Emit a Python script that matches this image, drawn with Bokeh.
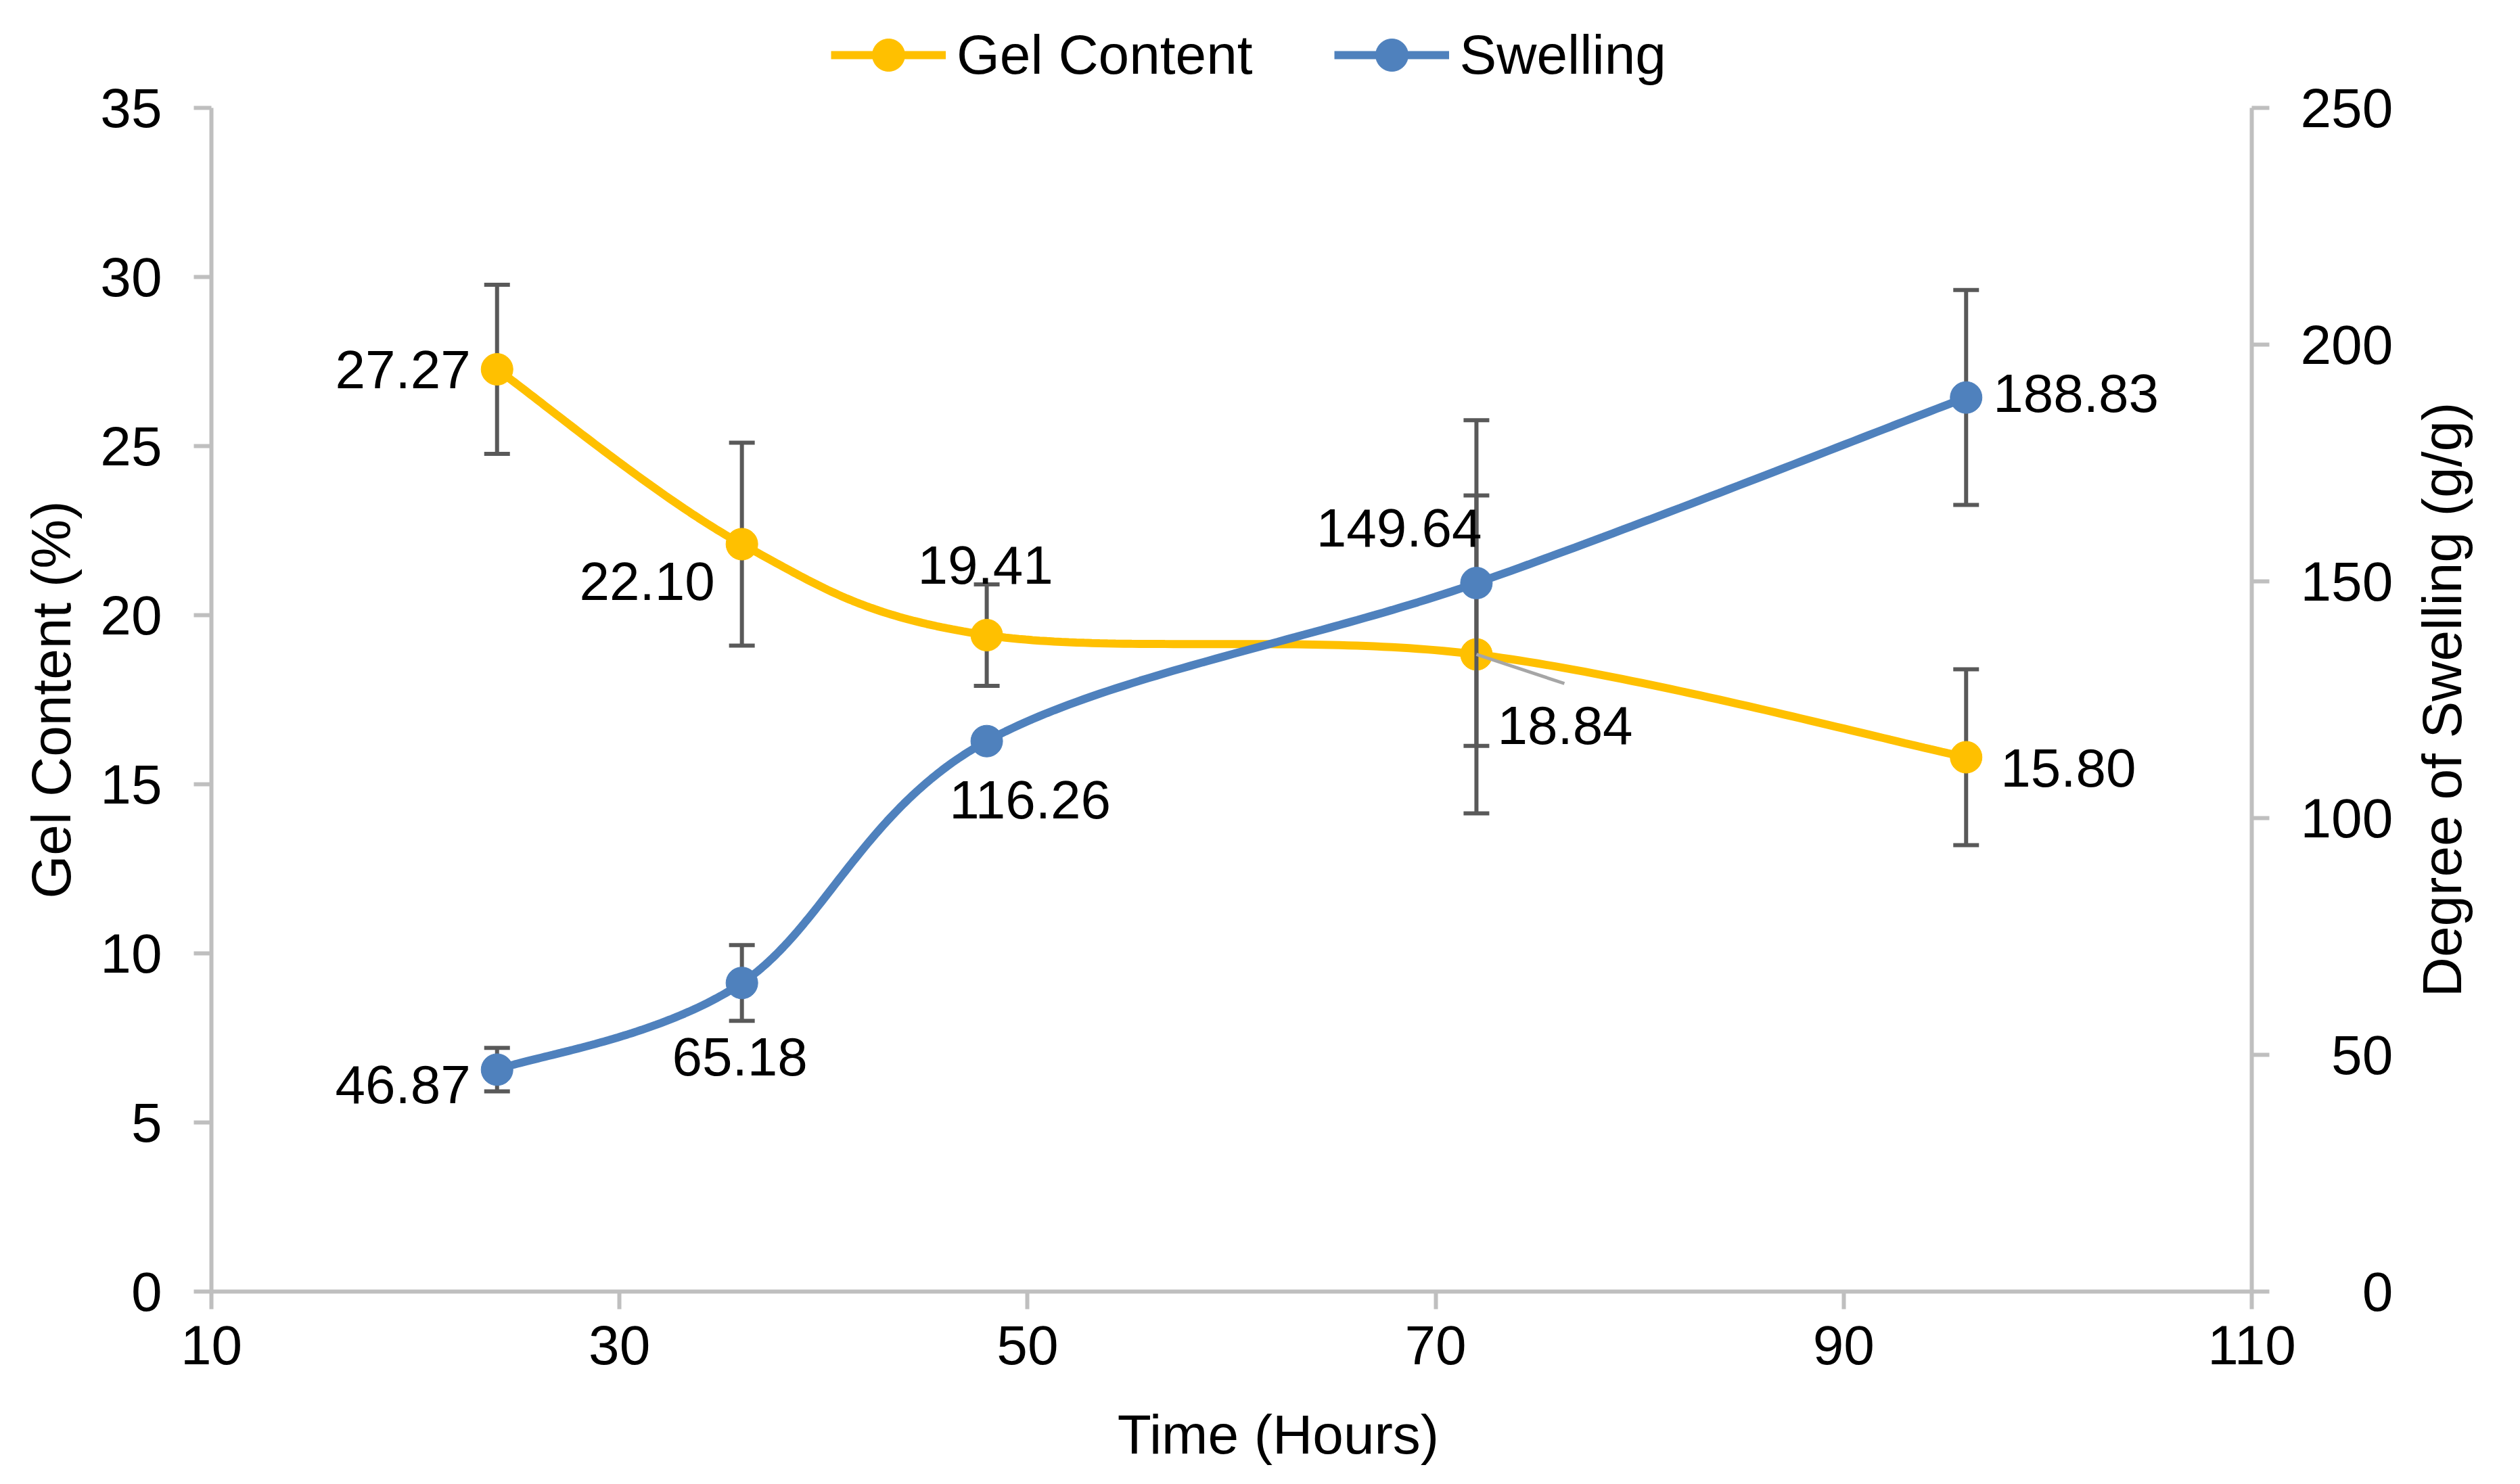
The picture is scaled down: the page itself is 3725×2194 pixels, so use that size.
import math
import numpy as np
from bokeh.plotting import figure
from bokeh.models import (Range1d, LinearAxis, FixedTicker, Legend, LegendItem,
                          ColumnDataSource)
from bokeh.core.properties import value
from bokeh.embed import file_html
from bokeh.resources import INLINE

# ---------------- data ----------------
time_h = [24, 36, 48, 72, 96]
gel_content = [27.27, 22.10, 19.41, 18.84, 15.80]
gel_err = [2.5, 3.0, 1.5, 4.7, 2.6]
swelling = [46.87, 65.18, 116.26, 149.64, 188.83]
swell_err = [4.6, 8.0, 0.0, 34.4, 22.7]
gel_labels = ["27.27", "22.10", "19.41", "18.84", "15.80"]
swell_labels = ["46.87", "65.18", "116.26", "149.64", "188.83"]
x_ticks = [10, 30, 50, 70, 90, 110]
left_ticks = [0, 5, 10, 15, 20, 25, 30, 35]
right_ticks = [0, 50, 100, 150, 200, 250]
x_title = "Time (Hours)"
left_title = "Gel Content (%)"
right_title = "Degree of Swelling (g/g)"

# ---------------- styles / positions ----------------
GOLD = "#FFC000"
BLUE = "#4F81BD"
ERR = "#595959"
AXC = "#BFBFBF"
FONT = "Liberation Sans"
FS = "82px"
W, H = 3700, 2178                 # canvas
PL, PT, PW, PH = 312, 159, 3016, 1750   # plot area inside canvas (px)
X0, X1 = 10, 110
YL0, YL1 = 0, 35
YR0, YR1 = 0, 250

gel_align = ["right", "right", "center", "left", "left"]
gel_dx = [-39, -40, -2, 31, 51]
gel_dy = [0, 55, -104, 105, 16]
sw_align = ["right", "center", "center", "right", "left"]
sw_dx = [-39, -3, 64, 8, 40]
sw_dy = [22, 109, 87, -82, -6]
LEADER_PX = (130, 43)       # leader line for the 18.84 label
XTITLE_OFF = (69, 211)      # from (mid x, y=0), screen px (right, down)
LTITLE_OFF = -237           # from x = X0
RTITLE_OFF = 281            # from x = X1
LEGEND_LEFT, LEGEND_BOTTOM = 1228, 141


def smooth(xs, ys, n=60):
    pts = list(zip(xs, ys))
    ox, oy = [], []
    m = len(pts)
    for i in range(m - 1):
        p0 = pts[i - 1] if i > 0 else pts[i]
        p1 = pts[i]
        p2 = pts[i + 1]
        p3 = pts[i + 2] if i + 2 < m else pts[i + 1]
        c1 = (p1[0] + (p2[0] - p0[0]) / 6.0, p1[1] + (p2[1] - p0[1]) / 6.0)
        c2 = (p2[0] - (p3[0] - p1[0]) / 6.0, p2[1] - (p3[1] - p1[1]) / 6.0)
        t = np.linspace(0, 1, n, endpoint=(i == m - 2))
        a, b, c, d = (1 - t) ** 3, 3 * (1 - t) ** 2 * t, 3 * (1 - t) * t ** 2, t ** 3
        ox.extend(a * p1[0] + b * c1[0] + c * c2[0] + d * p2[0])
        oy.extend(a * p1[1] + b * c1[1] + c * c2[1] + d * p2[1])
    return ox, oy


# ranges extended so that the frame covers the whole canvas
kx = (X1 - X0) / PW
kl = (YL1 - YL0) / PH
kr = (YR1 - YR0) / PH
x_range = Range1d(X0 - PL * kx, X1 + (W - PL - PW) * kx)
yl_range = Range1d(YL0 - (H - PT - PH) * kl, YL1 + PT * kl)
yr_range = Range1d(YR0 - (H - PT - PH) * kr, YR1 + PT * kr)

p = figure(width=W, height=H, output_backend="svg", toolbar_location=None,
           x_range=x_range, y_range=yl_range,
           x_axis_type=None, y_axis_type=None, min_border=0,
           background_fill_color="white", border_fill_color="white")
p.title.visible = False
p.extra_y_ranges = {"right": yr_range}
p.outline_line_color = None
p.xgrid.visible = False
p.ygrid.visible = False

x_axis = LinearAxis(ticker=FixedTicker(ticks=x_ticks), fixed_location=YL0,
                    bounds=(X0, X1))
left_axis = LinearAxis(ticker=FixedTicker(ticks=left_ticks), fixed_location=X0,
                       bounds=(YL0, YL1))
right_axis = LinearAxis(ticker=FixedTicker(ticks=right_ticks), y_range_name="right",
                        fixed_location=X1, bounds=(YR0, YR1))
p.add_layout(x_axis, "below")
p.add_layout(left_axis, "left")
p.add_layout(right_axis, "right")

for ax in (x_axis, left_axis, right_axis):
    ax.axis_line_color = AXC
    ax.axis_line_width = 6
    ax.major_tick_line_color = AXC
    ax.major_tick_line_width = 6
    ax.major_tick_out = 26
    ax.major_tick_in = 0
    ax.minor_tick_line_color = None
    ax.major_label_text_font = FONT
    ax.major_label_text_font_size = FS
    ax.major_label_text_color = "black"

x_axis.major_label_standoff = 24
left_axis.major_label_standoff = 47
right_axis.major_label_standoff = 46
# right-aligned tick labels on the secondary axis (padded with figure spaces)
width = max(len(str(v)) for v in right_ticks)
right_axis.major_label_overrides = {v: "\u2007" * (width - len(str(v))) + str(v)
                                    for v in right_ticks}

# ---------------- gel content ----------------
gx, gy = smooth(time_h, gel_content)
gel_line = p.line(gx, gy, line_color=GOLD, line_width=12)

gel_lo = [v - e for v, e in zip(gel_content, gel_err)]
gel_hi = [v + e for v, e in zip(gel_content, gel_err)]
p.segment(x0=time_h, y0=gel_lo, x1=time_h, y1=gel_hi, line_color=ERR, line_width=6)
p.scatter(x=time_h + time_h, y=gel_lo + gel_hi, marker="dash", size=38,
          line_color=ERR, line_width=6)
gel_pts = p.scatter(x=time_h, y=gel_content, size=47, fill_color=GOLD, line_color=GOLD)

# ---------------- swelling ----------------
sx, sy = smooth(time_h, swelling)
sw_line = p.line(sx, sy, line_color=BLUE, line_width=12, y_range_name="right")

ex = [t for t, e in zip(time_h, swell_err) if e > 0]
sw_lo = [v - e for v, e in zip(swelling, swell_err) if e > 0]
sw_hi = [v + e for v, e in zip(swelling, swell_err) if e > 0]
p.segment(x0=ex, y0=sw_lo, x1=ex, y1=sw_hi, line_color=ERR, line_width=6,
          y_range_name="right")
p.scatter(x=ex + ex, y=sw_lo + sw_hi, marker="dash", size=38,
          line_color=ERR, line_width=6, y_range_name="right")
sw_pts = p.scatter(x=time_h, y=swelling, size=47, fill_color=BLUE, line_color=BLUE,
                   y_range_name="right")

# ---------------- leader line for 18.84 ----------------
i72 = time_h.index(72)
p.segment(x0=[time_h[i72]], y0=[gel_content[i72]],
          x1=[time_h[i72] + LEADER_PX[0] * kx],
          y1=[gel_content[i72] - LEADER_PX[1] * kl],
          line_color="#A6A6A6", line_width=5)

# ---------------- data labels ----------------
gsrc = ColumnDataSource(dict(x=time_h, y=gel_content, t=gel_labels, a=gel_align,
                             dx=gel_dx, dy=gel_dy))
p.text(x="x", y="y", text="t", text_align="a", x_offset="dx", y_offset="dy",
       text_baseline="middle", text_font=value(FONT), text_font_size=value("80px"),
       text_color="black", source=gsrc)
ssrc = ColumnDataSource(dict(x=time_h, y=swelling, t=swell_labels, a=sw_align,
                             dx=sw_dx, dy=sw_dy))
p.text(x="x", y="y", text="t", text_align="a", x_offset="dx", y_offset="dy",
       text_baseline="middle", text_font=value(FONT), text_font_size=value("80px"),
       text_color="black", source=ssrc, y_range_name="right")

# ---------------- axis titles ----------------
title_kw = dict(text_font=value(FONT), text_font_size=value(FS), text_color="black",
                text_align="center", text_baseline="middle")
p.text(x=[(X0 + X1) / 2], y=[YL0], text=[x_title],
       x_offset=XTITLE_OFF[0], y_offset=XTITLE_OFF[1], **title_kw)
p.text(x=[X0], y=[(YL0 + YL1) / 2], text=[left_title], angle=math.pi / 2,
       x_offset=LTITLE_OFF, **title_kw)
p.text(x=[X1], y=[(YR0 + YR1) / 2], text=[right_title], angle=math.pi / 2,
       x_offset=RTITLE_OFF, y_range_name="right", **title_kw)

# ---------------- legend ----------------
legend = Legend(items=[LegendItem(label="Gel Content", renderers=[gel_line, gel_pts]),
                       LegendItem(label="Swelling", renderers=[sw_line, sw_pts])],
                orientation="horizontal", location=(LEGEND_LEFT, H - LEGEND_BOTTOM),
                glyph_width=170, glyph_height=120, label_standoff=16, spacing=120,
                padding=0, margin=0, border_line_color=None,
                background_fill_alpha=0,
                label_text_font=FONT, label_text_font_size=FS,
                label_text_color="black")
p.add_layout(legend, "center")

open("out.html", "w").write(file_html(p, INLINE))
